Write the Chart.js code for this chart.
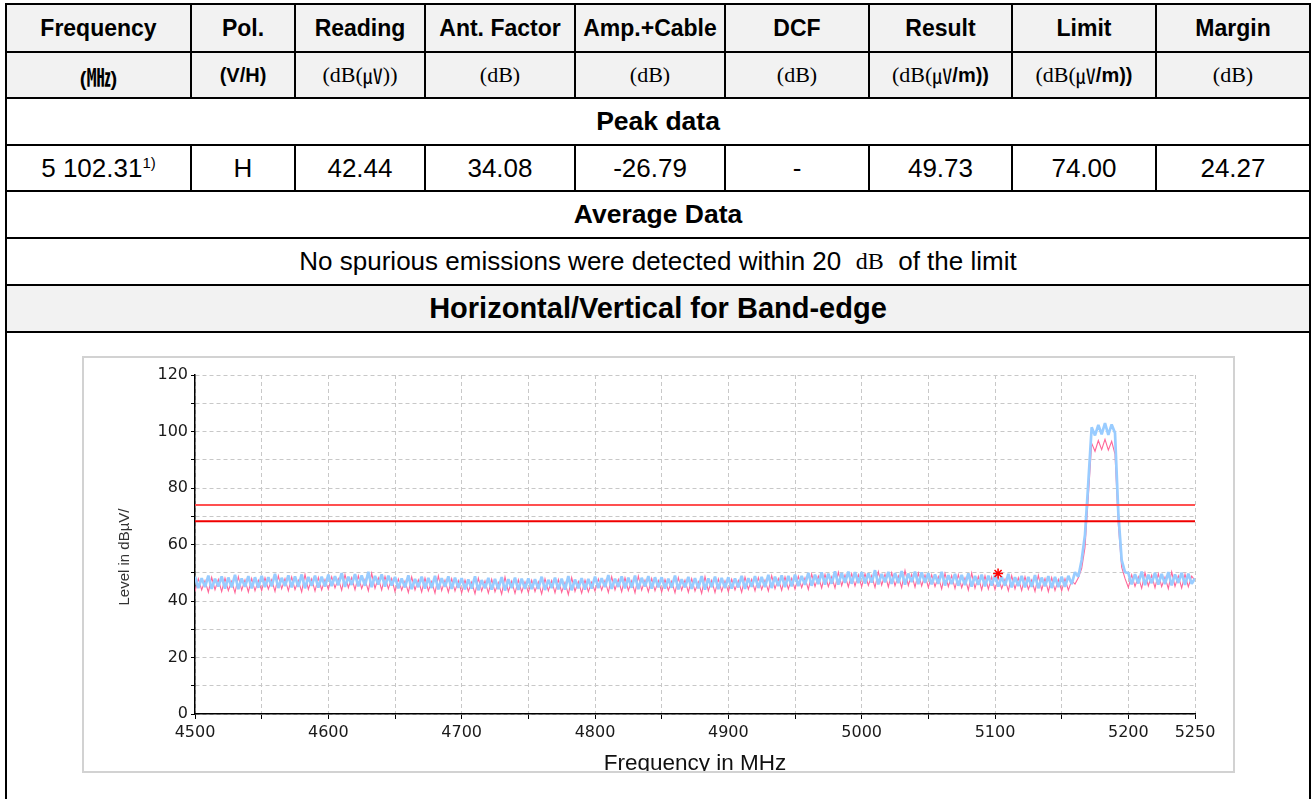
<!DOCTYPE html>
<html>
<head>
<meta charset="utf-8">
<script src="https://cdn.jsdelivr.net/npm/chart.js@4.4.1/dist/chart.umd.min.js"></script>
<style>
  body { margin: 0; background: #fff; width: 1313px; height: 799px; overflow: hidden; position: relative;
         font-family: "Liberation Sans", Arial, sans-serif; color: #000; }
  .ln { position: absolute; background: #000; }
  .bg { position: absolute; background: #f2f2f2; }
  .cell { position: absolute; display: flex; align-items: center; justify-content: center; white-space: nowrap; }
  .hd { font-weight: bold; font-size: 23px; }
  .un { font-size: 20px; }
  .sec { font-weight: bold; font-size: 26.5px; }
  .val { font-size: 26px; }
  .ttl { font-weight: bold; font-size: 29px; }
  .sf { font-family: "Liberation Serif", serif; font-size: 22px; }
  .cj { font-family: "Noto Sans CJK KR", sans-serif; }
  sup { font-size: 15px; position: relative; top: -6px; vertical-align: baseline; }
  #frame { position: absolute; left: 82px; top: 356px; width: 1149px; height: 413px; border: 2px solid #d2d2d2; }
  #frame canvas { display: block; }
</style>
</head>
<body>
<div id="tabla"></div>
<div id="frame"><canvas id="grafico" width="1149" height="413"></canvas></div>

<script>
// --- dados da tabela ---
const cabecalhos = ["Frequency", "Pol.", "Reading", "Ant. Factor", "Amp.+Cable", "DCF", "Result", "Limit", "Margin"];
const unidades = [
    '<b>(<span class="cj" style="font-size:24px">㎒</span>)</b>',
    '<b>(V/H)</b>',
    '<span class="sf">(dB(</span><span class="cj">㎶</span><span class="sf">))</span>',
    '<span class="sf">(dB)</span>',
    '<span class="sf">(dB)</span>',
    '<span class="sf">(dB)</span>',
    '<span class="sf">(dB(</span><span class="cj">㎶</span><b>/m))</b>',
    '<span class="sf">(dB(</span><span class="cj">㎶</span><b>/m))</b>',
    '<span class="sf">(dB)</span>'
];
const linhaPico = ["5 102.31<sup>1)</sup>", "H", "42.44", "34.08", "-26.79", "-", "49.73", "74.00", "24.27"];

// --- dados do gráfico ---
const freqInicio = 4500;
const freqPasso = 2.5;
const nivelRosa = [
    43.4,47.9,43.9,47.2,43.1,48.4,44.0,47.6,43.3,48.1,43.7,47.0,42.9,48.6,43.8,47.5,43.2,48.0,43.6,47.3,
    43.7,48.2,44.2,47.5,43.4,48.9,44.3,47.9,43.6,48.5,44.0,47.3,43.2,49.4,44.1,47.8,43.5,48.3,43.9,47.6,
    44.1,48.6,44.6,47.9,43.8,49.3,44.7,48.3,44.0,48.9,44.4,47.7,43.6,49.8,44.5,48.2,43.9,48.7,44.3,48.0,
    43.3,47.8,43.8,47.1,43.0,48.5,43.9,47.5,43.2,48.1,43.6,46.9,42.8,48.9,43.7,47.4,43.1,47.9,43.5,47.2,
    42.9,47.4,43.4,46.7,42.6,48.1,43.5,47.1,42.8,47.7,43.2,46.5,42.4,48.5,43.3,47.0,42.7,47.5,43.1,46.8,
    43.0,47.3,43.3,46.8,42.5,47.9,43.6,47.2,42.9,47.6,43.1,46.6,42.3,48.3,43.4,46.9,42.8,47.4,43.2,46.7,
    43.5,47.8,43.8,47.3,43.0,48.6,43.9,47.6,43.3,48.2,43.7,47.1,42.9,48.8,43.8,47.4,43.2,48.0,43.6,47.2,
    43.2,47.6,43.7,47.0,42.9,48.3,43.8,47.4,43.1,47.9,43.5,46.8,42.7,48.6,43.6,47.3,43.0,47.8,43.4,47.1,
    43.3,47.7,43.9,47.2,43.1,48.5,44.1,47.7,43.6,48.3,44.0,47.4,43.5,49.0,44.3,47.9,43.8,48.5,44.2,48.0,
    44.2,48.7,44.7,48.2,44.1,49.5,45.1,48.8,44.6,49.4,45.1,48.6,44.6,50.2,45.4,49.2,45.0,49.7,45.3,49.3,
    45.1,49.6,45.5,49.0,44.8,50.4,45.6,49.5,45.0,50.0,45.4,48.9,44.7,50.8,45.5,49.4,44.9,49.9,45.3,49.2,
    44.8,49.3,45.1,48.6,44.3,49.8,45.1,49.0,44.4,49.3,44.7,48.2,43.9,49.9,44.5,48.7,43.9,48.9,44.2,48.5,
    44.0,48.5,44.4,47.8,43.6,49.0,44.3,48.2,43.7,48.6,44.1,47.4,43.4,49.1,43.9,47.9,43.3,48.3,43.7,47.6,
    43.6,47.9,43.8,47.2,46.0,48.2,51.5,59.0,77.0,95.8,93.0,96.8,93.6,97.2,93.4,96.5,92.0,67.0,52.0,48.0,
    44.8,49.3,45.2,48.6,44.5,50.0,45.3,49.1,44.7,49.6,45.1,48.5,44.4,50.3,45.2,48.9,44.6,49.5,45.0,48.8,
    47.3
];
const nivelAzul = [
    48.6,44.6,48.1,44.9,49.0,44.3,47.9,45.1,48.7,44.4,48.3,44.8,49.3,44.2,48.0,45.0,48.8,44.5,48.4,44.7,
    48.9,44.9,48.4,45.2,49.6,44.6,48.2,45.3,49.1,44.8,48.7,45.0,49.4,44.5,48.5,45.4,49.0,44.7,48.6,45.1,
    49.3,45.3,48.8,45.6,49.9,45.0,48.6,45.7,49.5,45.2,49.1,45.4,50.3,44.9,48.9,45.8,49.4,45.1,49.0,45.5,
    48.5,44.5,48.0,44.8,49.1,44.2,47.8,44.9,48.6,44.4,48.2,44.6,48.9,44.1,48.1,45.0,48.7,44.3,48.3,44.7,
    48.1,44.1,47.6,44.4,48.7,43.8,47.4,44.5,48.2,44.0,47.8,44.2,48.5,43.7,47.7,44.6,48.3,43.9,47.9,44.3,
    48.0,44.2,47.7,44.3,48.6,43.9,47.5,44.6,48.3,44.1,47.9,44.0,48.8,43.8,47.6,44.5,48.1,44.0,47.8,44.4,
    48.6,44.6,48.1,44.9,49.2,44.3,47.9,45.0,48.7,44.5,48.3,44.7,49.0,44.2,48.2,45.1,48.8,44.4,48.4,44.8,
    48.4,44.4,47.9,44.7,49.0,44.1,47.7,44.8,48.5,44.3,48.1,44.5,48.8,44.0,48.0,44.9,48.6,44.2,48.2,44.6,
    48.4,44.4,48.0,44.8,48.9,44.3,48.1,45.0,48.8,44.6,48.5,44.9,49.3,44.6,48.6,45.3,49.1,44.9,48.9,45.2,
    49.3,45.3,48.9,45.7,50.0,45.4,49.3,46.0,50.1,45.8,49.7,46.1,50.5,45.8,49.9,46.4,50.4,46.1,50.2,46.3,
    50.2,46.2,49.8,46.5,50.9,45.9,49.6,46.6,50.3,46.1,49.9,46.3,50.6,45.8,49.7,46.7,50.4,46.0,50.1,46.4,
    49.9,45.9,49.4,46.1,50.3,45.5,49.1,46.0,49.6,45.4,49.2,45.6,49.8,45.1,48.9,45.7,49.3,45.2,49.0,45.5,
    49.1,45.1,48.6,45.4,49.6,44.8,48.4,45.3,48.9,44.8,48.5,45.0,49.2,44.5,48.3,45.2,48.8,44.6,48.5,44.9,
    48.6,45.0,48.9,46.0,50.2,48.6,54.5,63.5,82.0,101.5,98.6,102.3,99.0,103.0,98.8,102.5,99.5,71.0,54.5,50.2,
    49.9,45.9,49.5,46.2,50.4,45.6,49.3,46.3,50.0,45.8,49.6,46.0,50.2,45.5,49.4,46.4,50.0,45.7,49.7,46.1,
    48.0
];
const limitePico = 74.0;
const limiteBaixo = 68.2;
const marcadorFreq = 5102.31;
const marcadorNivel = 49.73;
const rotulosX = [4500, 4600, 4700, 4800, 4900, 5000, 5100, 5200, 5250];
const rotulosY = [0, 20, 40, 60, 80, 100, 120];

// --- monta a tabela ---
const colX = [6, 191, 295, 425, 575, 725, 869, 1012, 1156, 1310];
const linY = [4, 52, 98, 145, 191, 238, 285, 332];
const tabela = document.getElementById("tabla");
let html = "";

function fundo(y0, y1) {
    html += `<div class="bg" style="left:${colX[0]}px;top:${y0}px;width:${colX[9] - colX[0]}px;height:${y1 - y0}px"></div>`;
}
function celula(x0, x1, y0, y1, cls, conteudo) {
    html += `<div class="cell ${cls}" style="left:${x0}px;top:${y0}px;width:${x1 - x0}px;height:${y1 - y0}px">${conteudo}</div>`;
}

fundo(linY[0], linY[2]);
fundo(linY[6], linY[7]);

for (let i = 0; i < 9; i++) {
    celula(colX[i], colX[i + 1], linY[0], linY[1], "hd", cabecalhos[i]);
    celula(colX[i], colX[i + 1], linY[1], linY[2], "un", unidades[i]);
    celula(colX[i], colX[i + 1], linY[3], linY[4], "val", linhaPico[i]);
}
celula(colX[0], colX[9], linY[2], linY[3], "sec", "Peak data");
celula(colX[0], colX[9], linY[4], linY[5], "sec", "Average Data");
celula(colX[0], colX[9], linY[5], linY[6], "val",
    'No spurious emissions were detected within 20 &nbsp;<span class="sf" style="font-size:24px">dB</span>&nbsp; of the limit');
celula(colX[0], colX[9], linY[6], linY[7], "ttl", "Horizontal/Vertical for Band-edge");

// linhas horizontais
linY.forEach(y => {
    html += `<div class="ln" style="left:${colX[0] - 1}px;top:${y - 1}px;width:${colX[9] - colX[0] + 2}px;height:2px"></div>`;
});
// bordas externas
[colX[0], colX[9]].forEach(x => {
    html += `<div class="ln" style="left:${x - 1}px;top:${linY[0] - 1}px;width:2px;height:${799 - linY[0] + 1}px"></div>`;
});
// divisões internas
for (let i = 1; i < 9; i++) {
    html += `<div class="ln" style="left:${colX[i] - 1}px;top:${linY[0]}px;width:2px;height:${linY[2] - linY[0]}px"></div>`;
    html += `<div class="ln" style="left:${colX[i] - 1}px;top:${linY[3]}px;width:2px;height:${linY[4] - linY[3]}px"></div>`;
}
tabela.innerHTML = html;

// --- gráfico ---
function paraPontos(niveis) {
    return niveis.map((y, i) => ({ x: freqInicio + i * freqPasso, y: y }));
}
const freqFim = freqInicio + (nivelAzul.length - 1) * freqPasso;

const ctx = document.getElementById("grafico").getContext("2d");
new Chart(ctx, {
    type: "line",
    data: {
        datasets: [
            {
                type: "scatter",
                data: [{ x: marcadorFreq, y: marcadorNivel }],
                pointStyle: "star",
                pointRadius: 5,
                borderColor: "#ff0000",
                borderWidth: 1.5,
                order: 0
            },
            {
                data: [{ x: freqInicio, y: limitePico }, { x: freqFim, y: limitePico }],
                borderColor: "#ff5050",
                borderWidth: 2,
                pointRadius: 0,
                order: 1
            },
            {
                data: [{ x: freqInicio, y: limiteBaixo }, { x: freqFim, y: limiteBaixo }],
                borderColor: "#f00000",
                borderWidth: 2,
                pointRadius: 0,
                order: 1
            },
            {
                data: paraPontos(nivelAzul),
                borderColor: "#99ccff",
                borderWidth: 2.7,
                borderJoinStyle: "bevel",
                pointRadius: 0,
                order: 2
            },
            {
                data: paraPontos(nivelRosa),
                borderColor: "#ff6699",
                borderWidth: 1.1,
                pointRadius: 0,
                order: 3
            }
        ]
    },
    options: {
        responsive: false,
        animation: false,
        events: [],
        layout: { padding: { top: 17, right: 38, left: 0, bottom: 0 } },
        plugins: { legend: { display: false }, tooltip: { enabled: false } },
        scales: {
            x: {
                type: "linear",
                min: 4500,
                max: 5250,
                afterFit: s => { s.height = 57; },
                ticks: {
                    stepSize: 50,
                    autoSkip: false,
                    maxRotation: 0,
                    padding: 4,
                    color: "#1a1a1a",
                    font: { family: "DejaVu Sans", size: 16 },
                    callback: v => rotulosX.includes(v) ? String(v) : ""
                },
                grid: { color: "#c8c8c8", lineWidth: 1, tickColor: "#000", tickLength: 5 },
                border: { color: "#000", width: 1.5, dash: [4, 3] },
                title: {
                    display: true,
                    text: "Frequency in MHz",
                    color: "#111",
                    font: { family: "Liberation Sans", size: 22.5 },
                    padding: { top: 0, bottom: -6 }
                }
            },
            y: {
                min: 0,
                max: 120,
                afterFit: s => { s.width = 111; },
                ticks: {
                    stepSize: 10,
                    padding: 3,
                    color: "#1a1a1a",
                    font: { family: "DejaVu Sans", size: 16 },
                    callback: v => rotulosY.includes(v) ? String(v) : ""
                },
                grid: { color: "#c8c8c8", lineWidth: 1, tickColor: "#000", tickLength: 4 },
                border: { color: "#000", width: 1.5, dash: [4, 3] },
                title: {
                    display: true,
                    text: "Level in dBµV/\u00a0\u00a0\u00a0\u00a0\u00a0\u00a0",
                    color: "#333",
                    font: { family: "Liberation Sans", size: 15 },
                    padding: { top: 32, bottom: 0 }
                }
            }
        }
    }
});
</script>
</body>
</html>
